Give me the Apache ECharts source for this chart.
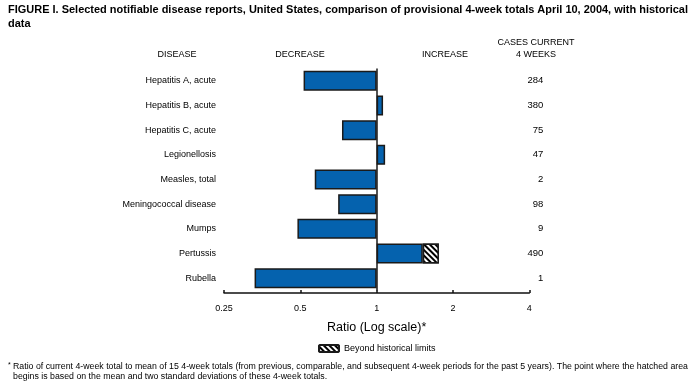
<!DOCTYPE html>
<html><head><meta charset="utf-8">
<script src="https://cdn.jsdelivr.net/npm/echarts@6/dist/echarts.min.js"></script>
<style>html,body{margin:0;padding:0;background:#fff}#c{width:694px;height:391px}</style>
</head><body><div id="c"></div>
<script>
var categories = ['Hepatitis A, acute','Hepatitis B, acute','Hepatitis C, acute','Legionellosis','Measles, total','Meningococcal disease','Mumps','Pertussis','Rubella'];
var ratios = [0.515, 1.06, 0.73, 1.08, 0.57, 0.705, 0.487, 1.76, 0.33];
var hatchStart = [null, null, null, null, null, null, null, 1.52, null];
var cases = [284, 380, 75, 47, 2, 98, 9, 490, 1];
var tickLabels = ['0.25','0.5','1','2','4'];

var log2 = function(v){ return Math.log(v)/Math.LN2; };
var mainVals = ratios.map(function(r,i){ return log2(hatchStart[i] != null ? hatchStart[i] : r); });
var hatchVals = ratios.map(function(r,i){ return hatchStart[i] != null ? log2(r) - log2(hatchStart[i]) : '-'; });

var F = 'Liberation Sans, Arial, sans-serif';
var ctx = document.createElement('canvas').getContext('2d');
function fitScale(text, font, target){ ctx.font = font; return target / ctx.measureText(text).width; }

var titleText = 'FIGURE I. Selected notifiable disease reports, United States, comparison of provisional 4-week totals April 10, 2004, with historical';
var titleFont = 'bold 11px ' + F;
var titleScale = fitScale(titleText, titleFont, 680);
var foot1 = 'Ratio of current 4-week total to mean of 15 4-week totals (from previous, comparable, and subsequent 4-week periods for the past 5 years). The point where the hatched area';
var foot2 = 'begins is based on the mean and two standard deviations of these 4-week totals.';
var footFont = '8.5px ' + F;
var footScale = fitScale(foot1, footFont, 675);

var chart = echarts.init(document.getElementById('c'), null, {renderer:'canvas'});
chart.setOption({
  animation: false,
  backgroundColor: '#fff',
  grid: {left: 224, right: 164.7, top: 68.5, height: 222},
  xAxis: {
    type: 'value', min: -2, max: 2, interval: 1, offset: 2.5,
    splitLine: {show: false},
    axisLine: {show: true, lineStyle: {color: '#111', width: 1.5}},
    axisTick: {show: true, inside: true, length: 3, lineStyle: {color: '#111', width: 1.5}},
    axisLabel: {fontFamily: F, fontSize: 9, color: '#000', margin: 11,
      formatter: function(v){ return tickLabels[Math.round(v) + 2]; }},
    name: 'Ratio (Log scale)*', nameLocation: 'middle', nameGap: 28,
    nameTextStyle: {fontFamily: F, fontSize: 12.5, color: '#000'}
  },
  yAxis: [{
    type: 'category', data: categories, inverse: true, position: 'left',
    axisLine: {show: false, onZero: false}, axisTick: {show: false},
    axisLabel: {fontFamily: F, fontSize: 9, color: '#000', margin: 8}
  },{
    type: 'category', data: categories, inverse: true, position: 'right',
    axisLine: {show: false, onZero: false}, axisTick: {show: false},
    axisLabel: {fontFamily: F, fontSize: 9.5, color: '#000', margin: 14, align: 'right',
      formatter: function(v, i){ return String(cases[i]); }}
  }],
  legend: {
    left: 318, top: 344, padding: 0, itemWidth: 20, itemHeight: 7, itemGap: 7,
    data: ['Beyond historical limits'],
    textStyle: {fontFamily: F, fontSize: 9, color: '#000'}
  },
  series: [{
    name: 'Ratio', type: 'bar', stack: 'r', data: mainVals, barWidth: 20,
    itemStyle: {color: '#0562ae', borderColor: '#1a1a1a', borderWidth: 1.5},
    markLine: {symbol: 'none', silent: true, label: {show: false},
      lineStyle: {color: '#1a1a1a', width: 1.5, type: 'solid'},
      data: [{xAxis: 0}]}
  },{
    name: 'Beyond historical limits', type: 'bar', stack: 'r', data: hatchVals, barWidth: 20,
    itemStyle: {color: '#fff', borderColor: '#1a1a1a', borderWidth: 1.5,
      decal: {symbol: 'rect', color: '#000', backgroundColor: '#fff', dashArrayX: [1, 0], dashArrayY: [1.3, 1.3], rotation: Math.PI/4, symbolSize: 1}}
  }],
  graphic: [
    {type:'text', left: 8, top: 4, scaleX: titleScale, style:{text: titleText, font: titleFont, fill:'#000'}},
    {type:'text', left: 8, top: 18, scaleX: titleScale, style:{text:'data', font: titleFont, fill:'#000'}},
    {type:'text', x: 177, y: 55, style:{text:'DISEASE', font:'9px ' + F, fill:'#000', align:'center', verticalAlign:'middle'}},
    {type:'text', x: 300, y: 55, style:{text:'DECREASE', font:'9px ' + F, fill:'#000', align:'center', verticalAlign:'middle'}},
    {type:'text', x: 445, y: 55, style:{text:'INCREASE', font:'9px ' + F, fill:'#000', align:'center', verticalAlign:'middle'}},
    {type:'text', x: 536, y: 43, style:{text:'CASES CURRENT', font:'9px ' + F, fill:'#000', align:'center', verticalAlign:'middle'}},
    {type:'text', x: 536, y: 55, style:{text:'4 WEEKS', font:'9px ' + F, fill:'#000', align:'center', verticalAlign:'middle'}},
    {type:'text', x: 8, y: 365, style:{text:'*', font:'7px ' + F, fill:'#000', verticalAlign:'middle'}},
    {type:'text', x: 13, y: 367, scaleX: footScale, style:{text: foot1, font: footFont, fill:'#000', verticalAlign:'middle'}},
    {type:'text', x: 13, y: 377, scaleX: footScale, style:{text: foot2, font: footFont, fill:'#000', verticalAlign:'middle'}}
  ]
});
</script></body></html>
